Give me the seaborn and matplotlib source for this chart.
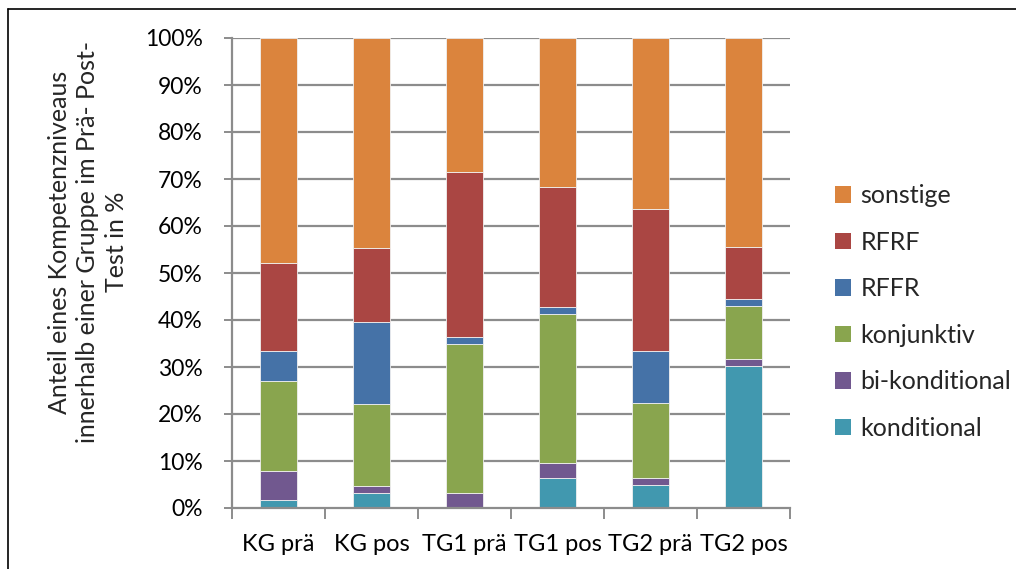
import numpy as np
import pandas as pd
import matplotlib
matplotlib.use("Agg")
import matplotlib.pyplot as plt
import seaborn as sns
from matplotlib.lines import Line2D
from matplotlib.patches import Patch
from matplotlib.ticker import FixedLocator, PercentFormatter

groups = ["KG prä", "KG pos", "TG1 prä", "TG1 pos", "TG2 prä", "TG2 pos"]
konditional = [1.6, 3.2, 0.0, 6.3, 4.8, 30.2]
bi_konditional = [6.2, 1.5, 3.1, 3.2, 1.6, 1.6]
konjunktiv = [19.2, 17.5, 31.8, 31.7, 15.9, 11.1]
rffr = [6.3, 17.4, 1.5, 1.6, 11.1, 1.6]
rfrf = [18.9, 15.8, 35.0, 25.4, 30.2, 11.1]
sonstige = [47.8, 44.6, 28.6, 31.8, 36.4, 44.4]

series_names = ["konditional", "bi-konditional", "konjunktiv", "RFFR", "RFRF", "sonstige"]
series_values = [konditional, bi_konditional, konjunktiv, rffr, rfrf, sonstige]
colors = ["#4198AF", "#71588F", "#89A54E", "#4572A7", "#AA4643", "#DB843D"]

sns.set_theme(style="white")
plt.rcParams["font.family"] = ["Lato", "DejaVu Sans"]

fig = plt.figure(figsize=(10.16, 5.69), dpi=100)
ax = fig.add_axes([232 / 1016, 1 - 508 / 569, (790 - 232) / 1016, (508 - 38) / 569])

grid_c = "#8c8c8c"
for v in range(10, 101, 10):
    ax.axhline(v, color=grid_c, lw=1.6, zorder=0)

bottom = np.zeros(len(groups))
for name, vals, c in zip(series_names, series_values, colors):
    df = pd.DataFrame({"group": groups, "value": vals})
    sns.barplot(data=df, x="group", y="value", order=groups, color=c, width=0.4,
                bottom=bottom, ax=ax, edgecolor="#f0f0f0", linewidth=0.6, zorder=2,
                saturation=1)
    bottom = bottom + np.array(vals)

ax.set_xlim(-0.5, 5.5)
ax.set_ylim(0, 100)
ax.set_yticks(np.arange(0, 101, 10))
ax.yaxis.set_major_formatter(PercentFormatter(decimals=0))
ax.set_xlabel("")
ax.set_ylabel("")

for s in ["top", "right"]:
    ax.spines[s].set_visible(False)
for s in ["left", "bottom"]:
    ax.spines[s].set_color(grid_c)
    ax.spines[s].set_linewidth(1.6)

ax.tick_params(axis="y", which="major", left=True, length=6, width=1.4, color=grid_c,
               labelsize=16.5, pad=15, labelcolor="black")
ax.tick_params(axis="x", which="major", bottom=False, labelsize=17, pad=13, labelcolor="black")
ax.xaxis.set_minor_locator(FixedLocator(np.arange(-0.5, 6, 1)))
ax.tick_params(axis="x", which="minor", bottom=True, length=8, width=1.4, color=grid_c)

handles = [Patch(facecolor=c, edgecolor="none") for c in colors][::-1]
labels = series_names[::-1]
leg = fig.legend(handles, labels, loc="center left", bbox_to_anchor=(835 / 1016, 1 - 312 / 569),
                 frameon=False, fontsize=18, handlelength=0.62, handleheight=0.62,
                 handletextpad=0.4, labelspacing=0.94, borderpad=0, borderaxespad=0)

fig.text(88 / 1016, 1 - 242 / 569,
         "Anteil eines Kompetenzniveaus\ninnerhalb einer Gruppe im Prä- Post-\nTest in %",
         rotation=90, ha="center", va="center", multialignment="center", fontsize=18,
         linespacing=1.28)

fig.add_artist(Line2D([8 / 1016, 8 / 1016], [0, 1 - 9 / 569], transform=fig.transFigure,
                      color="black", lw=1.2))
fig.add_artist(Line2D([8 / 1016, 1], [1 - 9 / 569, 1 - 9 / 569], transform=fig.transFigure,
                      color="black", lw=1.2))

fig.savefig("out.png", dpi=100)
